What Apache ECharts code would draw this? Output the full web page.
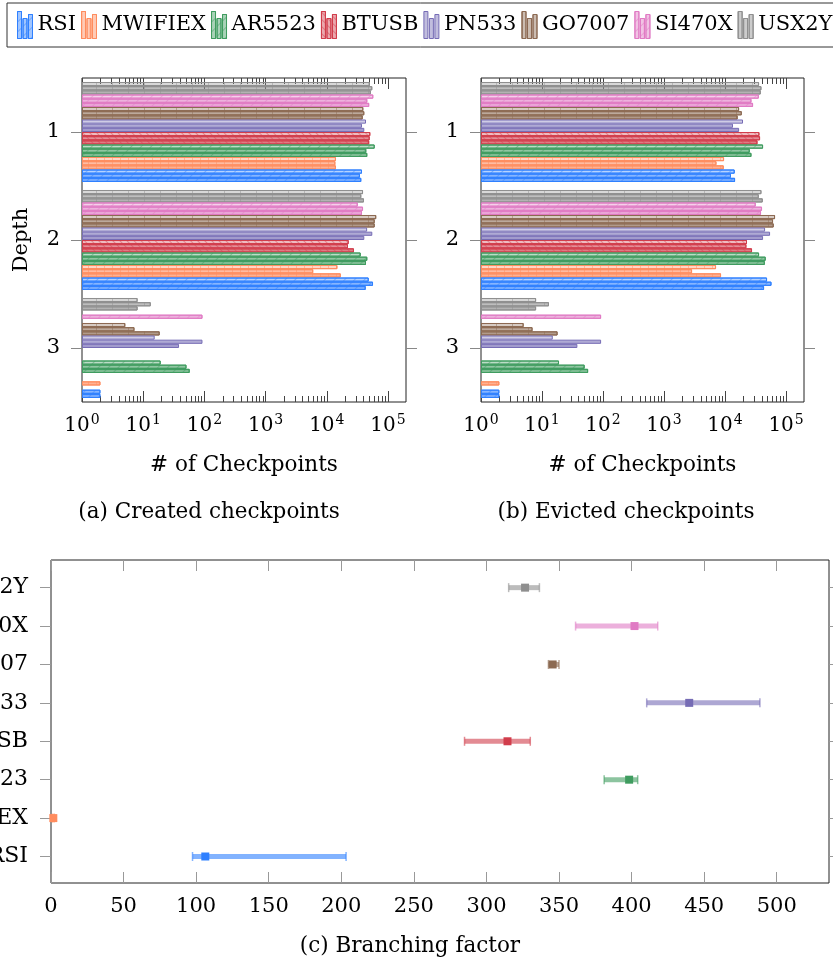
<!DOCTYPE html>
<html><head><meta charset="utf-8">
<script src="https://cdn.jsdelivr.net/npm/echarts@6/dist/echarts.min.js"></script>
<style>html,body{margin:0;padding:0;background:#fff}#c{width:833px;height:961px}</style>
</head><body><div id="c"></div><script>
const FONT = '"DejaVu Serif", serif';
const benchmarks = ['RSI','MWIFIEX','AR5523','BTUSB','PN533','GO7007','SI470X','USX2Y'];
const colors = ['#2f80ff','#ff8c5e','#3f9c5f','#d13d4b','#766cb5','#8c6a52','#e07bc4','#8f8f8f'];
const depths = ['1','2','3'];
const logMajorTicks = [1,10,100,1000,10000,100000];
const logMinorTicks = [2,3,4,5,6,7,8,9,20,30,40,50,60,70,80,90,200,300,400,500,600,700,800,900,
  2000,3000,4000,5000,6000,7000,8000,9000,20000,30000,40000,50000,60000,70000,80000,90000];
const bfTicks = [0,50,100,150,200,250,300,350,400,450,500];

// created checkpoints: [run1, run2, run3], each run = values at depth 1,2,3
const createdRSI     = [[37600,48400,null],[34800,56900,2],[36600,43200,2]];
const createdMWIFIEX = [[14100,14900,null],[13800,6000,null],[14100,16900,2]];
const createdAR5523  = [[60600,35800,19.3],[44200,45900,51],[45900,43700,57.5]];
const createdBTUSB   = [[51400,22800,null],[50200,22200,null],[49300,27800,null]];
const createdPN533   = [[43700,45600,15.4],[37600,55400,93],[41000,41000,38.5]];
const createdGO7007  = [[39500,64200,5.1],[41000,60600,7.2],[38600,60600,18.6]];
const createdSI470X  = [[57500,32000,null],[45900,39100,93],[49300,37600,null]];
const createdUSX2Y   = [[50800,39100,8.1],[55400,36600,13.3],[52500,40500,8.1]];

// evicted checkpoints
const evictedRSI     = [[14400,48800,null],[12500,57700,2],[14600,43600,2]];
const evictedMWIFIEX = [[9640,7120,null],[7230,2880,null],[9520,8600,2]];
const evictedAR5523  = [[42000,36100,19],[25400,46400,50],[27100,44800,57]];
const evictedBTUSB   = [[36600,22900,null],[37500,22400,null],[34000,27700,null]];
const evictedPN533   = [[19700,45300,15],[13500,54700,93],[17000,42000,38]];
const evictedGO7007  = [[17000,66000,5],[18800,61200,7],[16100,62800,18]];
const evictedSI470X  = [[35700,31800,null],[27100,40400,93],[28800,38900,null]];
const evictedUSX2Y   = [[36100,39500,8],[39500,35700,13],[38500,41500,8]];

// branching factor
const bfLow  = [97.5, 1, 381.1, 284.9, 410.4, 342.7, 361.4, 315.3];
const bfMean = [106.3, 1.6, 398.3, 314.5, 439.7, 345.6, 402.0, 326.6];
const bfHigh = [203.3, 2.2, 404.2, 330.2, 488.4, 350.0, 418.0, 336.5];

const createdSets = [createdRSI,createdMWIFIEX,createdAR5523,createdBTUSB,createdPN533,createdGO7007,createdSI470X,createdUSX2Y];
const evictedSets = [evictedRSI,evictedMWIFIEX,evictedAR5523,evictedBTUSB,evictedPN533,evictedGO7007,evictedSI470X,evictedUSX2Y];
const runAlpha = [0.35, 0.58, 0.68];

function rgba(hex, a){
  const n = parseInt(hex.slice(1),16);
  return 'rgba(' + ((n>>16)&255) + ',' + ((n>>8)&255) + ',' + (n&255) + ',' + a + ')';
}

// hatch patterns per benchmark (pgfplots-like)
function hatch(b){
  const c = rgba(colors[b], 0.45);
  switch (benchmarks[b]) {
    case 'RSI': case 'AR5523': case 'SI470X':
      return {symbol: 'rect', symbolSize: 1, dashArrayX: [1, 0], dashArrayY: [1, 6], rotation: -Math.PI / 4, color: c};
    case 'MWIFIEX':
      return {symbol: 'rect', symbolSize: 1, dashArrayX: [1, 7], dashArrayY: [4, 0], color: c};
    case 'GO7007': case 'USX2Y':
      return {symbol: 'rect', symbolSize: 1, dashArrayX: [1, 15], dashArrayY: [4, 0], color: c};
    case 'BTUSB':
      return {symbol: 'rect', symbolSize: 1, dashArrayX: [1, 0], dashArrayY: [1, 4], rotation: Math.PI / 4, color: c};
    default:
      return null;
  }
}

function barSeries(sets, xIdx, yIdx){
  const out = [];
  for (let b = benchmarks.length - 1; b >= 0; b--) {
    for (let r = 0; r < 3; r++) {
      const st = {color: rgba(colors[b], runAlpha[r]), borderColor: colors[b], borderWidth: 1};
      const d = hatch(b);
      if (d) st.decal = d;
      out.push({
        type: 'bar', name: benchmarks[b], xAxisIndex: xIdx, yAxisIndex: yIdx,
        data: sets[b][r].map(v => v == null ? '-' : v),
        itemStyle: st,
        barGap: '0%', barCategoryGap: '7.4%', silent: true
      });
    }
  }
  return out;
}

const noLine = {show: false, onZero: false};
const axisText = {fontSize: 20, fontFamily: FONT, color: '#000'};
function logAxes(grid, nameTxt){
  const base = {gridIndex: grid, type: 'log', logBase: 10, min: 1, max: 196800,
    axisLine: noLine, splitLine: {show: false}, minorTick: {show: false}};
  return [
    Object.assign({}, base, {position: 'bottom',
      axisTick: {show: true, inside: true, length: 11, customValues: logMajorTicks, lineStyle: {color: '#444', width: 1}},
      axisLabel: Object.assign({}, axisText, {customValues: logMajorTicks, margin: 11,
        formatter: v => '10{e|' + Math.round(Math.log10(v)) + '}',
        rich: {e: {fontSize: 14, fontFamily: FONT, color: '#000', verticalAlign: 'top', padding: [0, 0, 11, 1]}}}),
      name: nameTxt, nameLocation: 'middle', nameGap: 52,
      nameTextStyle: {fontSize: 21.5, fontFamily: FONT, color: '#000'}}),
    Object.assign({}, base, {position: 'bottom',
      axisTick: {show: true, inside: true, length: 6, customValues: logMinorTicks, lineStyle: {color: '#444', width: 1}},
      axisLabel: {show: false}}),
    Object.assign({}, base, {position: 'top',
      axisTick: {show: true, inside: true, length: 11, customValues: logMajorTicks, lineStyle: {color: '#444', width: 1}},
      axisLabel: {show: false}}),
    Object.assign({}, base, {position: 'top',
      axisTick: {show: true, inside: true, length: 6, customValues: logMinorTicks, lineStyle: {color: '#444', width: 1}},
      axisLabel: {show: false}})
  ];
}
function depthAxes(grid, withName){
  const base = {gridIndex: grid, type: 'category', data: depths, inverse: true,
    axisLine: noLine, splitLine: {show: false},
    axisTick: {show: true, alignWithLabel: true, length: 11, lineStyle: {color: '#888'}}};
  const left = Object.assign({}, base, {position: 'left',
    axisLabel: Object.assign({}, axisText, {fontSize: 21, margin: 22})});
  if (withName) Object.assign(left, {name: 'Depth', nameLocation: 'middle', nameGap: 50,
    nameTextStyle: {fontSize: 21, fontFamily: FONT, color: '#000'}});
  const right = Object.assign({}, base, {position: 'right', axisLabel: {show: false}});
  return [left, right];
}

const bfSeries = [];
benchmarks.forEach((n, i) => {
  bfSeries.push({
    type: 'line', name: n, xAxisIndex: 8, yAxisIndex: 4,
    data: [[bfLow[i], i], [bfHigh[i], i]],
    lineStyle: {color: rgba(colors[i], 0.6), width: 5},
    symbol: 'rect', symbolSize: [1.5, 9], showSymbol: true,
    itemStyle: {color: rgba(colors[i], 0.6)}, silent: true, clip: false
  });
  bfSeries.push({
    type: 'scatter', name: n, xAxisIndex: 8, yAxisIndex: 4,
    data: [[bfMean[i], i]], symbol: 'rect', symbolSize: 8,
    itemStyle: {color: colors[i], opacity: 1}, silent: true, z: 5
  });
});

const bfYBase = {gridIndex: 2, type: 'value', min: -0.69, max: 7.72,
  axisLine: noLine, splitLine: {show: false},
  axisTick: {show: true, length: 11, customValues: [0,1,2,3,4,5,6,7], lineStyle: {color: '#999'}}};

const iconPath = 'path://M0,0H4V27H0Z M5.5,7H9.5V27H5.5Z M11,3H15V27H11Z';

const option = {
  animation: false,
  backgroundColor: '#fff',
  legend: {
    data: benchmarks.map((n, i) => ({name: n, icon: iconPath,
      itemStyle: {color: rgba(colors[i], 0.45), borderColor: colors[i], borderWidth: 1}})),
    left: 7, top: 3, width: 1200, itemWidth: 15, itemHeight: 27, itemGap: 5,
    padding: [8, 10, 8, 10], borderColor: '#333', borderWidth: 1,
    textStyle: {fontSize: 21, fontFamily: FONT, color: '#000'},
    selectedMode: false
  },
  grid: [
    {left: 82, right: 427, top: 78, bottom: 559, show: true, borderColor: '#222', borderWidth: 1, containLabel: false, outerBoundsMode: 'none'},
    {left: 481, right: 29, top: 78, bottom: 559, show: true, borderColor: '#222', borderWidth: 1, containLabel: false, outerBoundsMode: 'none'},
    {left: 51, right: 4, top: 560, bottom: 78, show: true, borderColor: '#222', borderWidth: 1, containLabel: false, outerBoundsMode: 'none'}
  ],
  xAxis: [].concat(
    logAxes(0, '# of Checkpoints'),
    logAxes(1, '# of Checkpoints'),
    [
      {gridIndex: 2, type: 'value', min: 0, max: 536, position: 'bottom',
        axisLine: noLine, splitLine: {show: false},
        axisTick: {show: true, inside: true, length: 11, customValues: bfTicks, lineStyle: {color: '#999'}},
        axisLabel: Object.assign({}, axisText, {fontSize: 21, customValues: bfTicks, margin: 13})},
      {gridIndex: 2, type: 'value', min: 0, max: 536, position: 'top',
        axisLine: noLine, splitLine: {show: false},
        axisTick: {show: true, inside: true, length: 11, customValues: bfTicks, lineStyle: {color: '#999'}},
        axisLabel: {show: false}}
    ]
  ),
  yAxis: [].concat(
    depthAxes(0, true),
    depthAxes(1, false),
    [
      Object.assign({}, bfYBase, {position: 'left',
        axisLabel: Object.assign({}, axisText, {fontSize: 22, margin: 23, customValues: [0,1,2,3,4,5,6,7],
          formatter: v => benchmarks[Math.round(v)]})}),
      Object.assign({}, bfYBase, {position: 'right', axisLabel: {show: false}})
    ]
  ),
  graphic: [
    {type: 'text', x: 209, y: 512, style: {text: '(a) Created checkpoints', font: '21.5px ' + FONT, fill: '#000', align: 'center', verticalAlign: 'middle'}},
    {type: 'text', x: 626, y: 512, style: {text: '(b) Evicted checkpoints', font: '21.5px ' + FONT, fill: '#000', align: 'center', verticalAlign: 'middle'}},
    {type: 'text', x: 410, y: 946, style: {text: '(c) Branching factor', font: '21.5px ' + FONT, fill: '#000', align: 'center', verticalAlign: 'middle'}}
  ],
  series: [].concat(barSeries(createdSets, 0, 0), barSeries(evictedSets, 4, 2), bfSeries)
};

const chart = echarts.init(document.getElementById('c'), null, {renderer: 'canvas'});
chart.setOption(option);
</script></body></html>
